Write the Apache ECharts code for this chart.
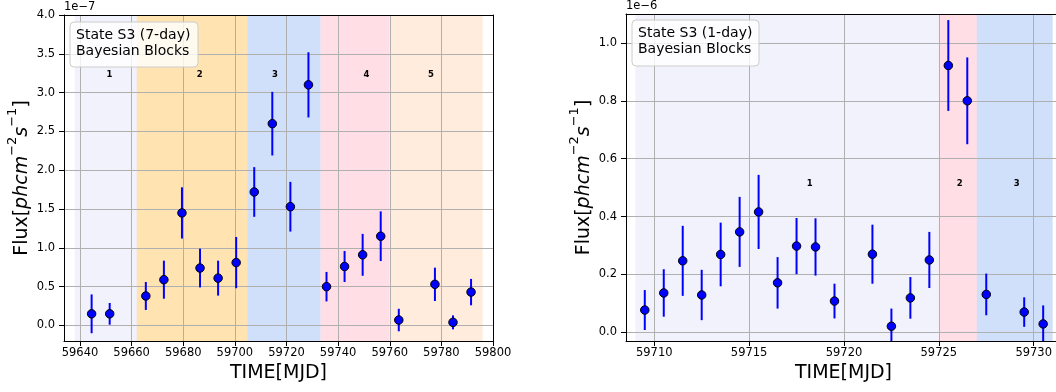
<!DOCTYPE html>
<html>
<head>
<meta charset="utf-8">
<script src="https://cdn.jsdelivr.net/npm/echarts@6/dist/echarts.min.js"></script>
<style>
  html, body { margin: 0; padding: 0; background: #ffffff; }
  #chart { width: 1056px; height: 392px; }
</style>
</head>
<body>
<div id="chart"></div>
<script>
// ---- 7-day binned light curve (flux in units of 1e-7 ph cm^-2 s^-1) ----
const weekTime = [59644.5, 59651.5, 59665.5, 59672.5, 59679.5, 59686.5, 59693.5, 59700.5, 59707.5, 59714.5,
                  59721.5, 59728.5, 59735.5, 59742.5, 59749.5, 59756.5, 59763.5, 59777.5, 59784.5, 59791.5];
const weekFlux = [0.15, 0.15, 0.38, 0.59, 1.45, 0.74, 0.61, 0.81, 1.72, 2.60,
                  1.53, 3.10, 0.50, 0.76, 0.91, 1.15, 0.07, 0.53, 0.04, 0.43];
const weekErr  = [0.25, 0.14, 0.18, 0.245, 0.33, 0.25, 0.225, 0.33, 0.32, 0.41,
                  0.32, 0.42, 0.19, 0.20, 0.27, 0.32, 0.145, 0.215, 0.09, 0.17];

// Bayesian-block edges and block numbers for the 7-day curve
const weekEdges = [59638, 59662, 59704.8, 59733.2, 59759.8, 59796];
const weekBlockNames = ['1', '2', '3', '4', '5'];
const weekBlockLabelX = [59651.4, 59686.4, 59715.5, 59751.0, 59776.0];
const weekBlockLabelY = 3.23;

// ---- 1-day binned light curve (flux in units of 1e-6 ph cm^-2 s^-1) ----
const dayTime = [59709.5, 59710.5, 59711.5, 59712.5, 59713.5, 59714.5, 59715.5, 59716.5, 59717.5, 59718.5,
                 59719.5, 59721.5, 59722.5, 59723.5, 59724.5, 59725.5, 59726.5, 59727.5, 59729.5, 59730.5];
const dayFlux = [0.077, 0.136, 0.247, 0.129, 0.269, 0.347, 0.416, 0.171, 0.298, 0.295,
                 0.108, 0.270, 0.021, 0.119, 0.250, 0.922, 0.800, 0.131, 0.070, 0.029];
const dayErr  = [0.069, 0.082, 0.121, 0.087, 0.110, 0.121, 0.128, 0.089, 0.097, 0.099,
                 0.060, 0.102, 0.061, 0.072, 0.097, 0.157, 0.150, 0.072, 0.051, 0.064];

const dayEdges = [59709, 59725, 59727, 59731];
const dayBlockNames = ['1', '2', '3'];
const dayBlockLabelX = [59718.2, 59726.1, 59729.1];
const dayBlockLabelY = 0.512;

// Tick values
const weekXTicks = [59640, 59660, 59680, 59700, 59720, 59740, 59760, 59780, 59800];
const weekYTicks = [0.0, 0.5, 1.0, 1.5, 2.0, 2.5, 3.0, 3.5, 4.0];
const dayXTicks = [59710, 59715, 59720, 59725, 59730];
const dayYTicks = [0.0, 0.2, 0.4, 0.6, 0.8, 1.0];

// Block shading colours
const LAVENDER = 'rgba(230,230,250,0.5)';
const ORANGE = 'rgba(255,165,0,0.3)';
const CORNFLOWER = 'rgba(100,149,237,0.3)';
const PINK = 'rgba(255,192,203,0.5)';
const PEACH = 'rgba(255,218,185,0.5)';
const weekColors = [LAVENDER, ORANGE, CORNFLOWER, PINK, PEACH];
const dayColors = [LAVENDER, PINK, CORNFLOWER];

const FONT = 'DejaVu Sans';

const panels = [
  {
    grid: { left: 64, top: 15, width: 429, height: 326, outerBoundsMode: 'none' },
    xRange: [59633.8, 59800], yRange: [-0.2, 4.0],
    xTicks: weekXTicks, yTicks: weekYTicks,
    t: weekTime, f: weekFlux, e: weekErr,
    edges: weekEdges, colors: weekColors,
    names: weekBlockNames, lx: weekBlockLabelX, ly: weekBlockLabelY
  },
  {
    // the right-hand frame runs a few pixels past the canvas edge
    grid: { left: 626, top: 14, width: 435, height: 327, outerBoundsMode: 'none' },
    xRange: [59708.51, 59731.44], yRange: [-0.03, 1.1],
    xTicks: dayXTicks, yTicks: dayYTicks,
    t: dayTime, f: dayFlux, e: dayErr,
    edges: dayEdges, colors: dayColors,
    names: dayBlockNames, lx: dayBlockLabelX, ly: dayBlockLabelY
  }
];

const yName = '{a|Flux[}{b|phcm}{c|\u22122}{b|s}{c|\u22121}{a|]}';
const yNameRich = {
  a: { fontFamily: FONT, fontSize: 19, color: '#000', lineHeight: 26, verticalAlign: 'bottom' },
  b: { fontFamily: FONT, fontSize: 19, fontStyle: 'italic', color: '#000', lineHeight: 26, verticalAlign: 'bottom' },
  c: { fontFamily: FONT, fontSize: 13, color: '#000', lineHeight: 26, verticalAlign: 'top' }
};

const grids = [], xAxes = [], yAxes = [], series = [];

panels.forEach((p, i) => {
  grids.push(p.grid);
  const tickLabel = { color: '#000', fontFamily: FONT, fontSize: 11.5 };
  // bottom axis
  xAxes.push({
    type: 'value', gridIndex: i, min: p.xRange[0], max: p.xRange[1], z: 1,
    name: 'TIME[MJD]', nameLocation: 'middle', nameGap: 21,
    nameTextStyle: { color: '#000', fontFamily: FONT, fontSize: 19 },
    axisLine: { show: true, onZero: false, lineStyle: { color: '#000', width: 1 } },
    axisTick: { show: true, length: 5, lineStyle: { color: '#000', width: 1 }, customValues: p.xTicks },
    axisLabel: Object.assign({ margin: 6, customValues: p.xTicks, formatter: v => String(Math.round(v)) }, tickLabel),
    splitLine: { show: true, lineStyle: { color: '#b0b0b0', width: 1 } }
  });
  // left axis
  yAxes.push({
    type: 'value', gridIndex: i, min: p.yRange[0], max: p.yRange[1], z: 1,
    name: yName, nameLocation: 'middle', nameGap: 32, nameRotate: 90,
    nameTextStyle: { rich: yNameRich },
    axisLine: { show: true, onZero: false, lineStyle: { color: '#000', width: 1 } },
    axisTick: { show: true, length: 5, lineStyle: { color: '#000', width: 1 }, customValues: p.yTicks },
    axisLabel: Object.assign({ margin: 9, customValues: p.yTicks, formatter: v => Number(v).toFixed(1) }, tickLabel),
    splitLine: { show: true, lineStyle: { color: '#b0b0b0', width: 1 } }
  });
});

// frame: top and right spines
panels.forEach((p, i) => {
  xAxes.push({
    type: 'value', gridIndex: i, position: 'top', min: p.xRange[0], max: p.xRange[1], z: 1,
    axisLine: { show: true, onZero: false, lineStyle: { color: '#000', width: 1 } },
    axisTick: { show: false }, axisLabel: { show: false }, splitLine: { show: false }
  });
  yAxes.push({
    type: 'value', gridIndex: i, position: 'right', min: p.yRange[0], max: p.yRange[1], z: 1,
    axisLine: { show: true, onZero: false, lineStyle: { color: '#000', width: 1 } },
    axisTick: { show: false }, axisLabel: { show: false }, splitLine: { show: false }
  });
});

panels.forEach((p, i) => {
  // block shading
  const blocks = p.colors.map((c, k) => [p.edges[k], p.edges[k + 1], k]);
  series.push({
    type: 'custom', xAxisIndex: i, yAxisIndex: i, z: 0, silent: true, clip: true,
    data: blocks, encode: { x: [0, 1] },
    renderItem: (params, api) => {
      const a = api.coord([api.value(0), p.yRange[1]]);
      const b = api.coord([api.value(1), p.yRange[0]]);
      return {
        type: 'rect',
        shape: { x: a[0], y: a[1], width: b[0] - a[0], height: b[1] - a[1] },
        style: { fill: p.colors[api.value(2)] }
      };
    }
  });
  // error bars
  const errData = p.t.map((t, k) => [t, p.f[k], p.e[k]]);
  series.push({
    type: 'custom', xAxisIndex: i, yAxisIndex: i, z: 2, silent: true, clip: true,
    data: errData, encode: { x: 0, y: 1 },
    renderItem: (params, api) => {
      const x = api.value(0), y = api.value(1), e = api.value(2);
      const lo = api.coord([x, y - e]);
      const hi = api.coord([x, y + e]);
      return {
        type: 'line',
        shape: { x1: lo[0], y1: lo[1], x2: hi[0], y2: hi[1] },
        style: { stroke: '#0000ff', lineWidth: 2 }
      };
    }
  });
  // flux points
  series.push({
    type: 'scatter', xAxisIndex: i, yAxisIndex: i, z: 3, silent: true,
    symbol: 'circle', symbolSize: 8.5,
    itemStyle: { color: '#0000ff', borderColor: '#000', borderWidth: 1, opacity: 1 },
    data: p.t.map((t, k) => [t, p.f[k]])
  });
  // block numbers
  series.push({
    type: 'custom', xAxisIndex: i, yAxisIndex: i, z: 3, silent: true,
    data: p.names.map((n, k) => [p.lx[k], p.ly, k]), encode: { x: 0, y: 1 },
    renderItem: (params, api) => {
      const c = api.coord([api.value(0), api.value(1)]);
      return {
        type: 'text', x: c[0], y: c[1],
        style: {
          text: p.names[api.value(2)], fill: '#000',
          font: 'bold 8.5px "DejaVu Sans"', align: 'center', verticalAlign: 'middle'
        }
      };
    }
  });
});

function textBox(x, y, w, h, lines) {
  return {
    type: 'group', x: x, y: y, z: 10,
    children: [
      { type: 'rect', z: 10, shape: { x: 0, y: 0, width: w, height: h, r: 4 },
        style: { fill: 'rgba(255,255,255,0.8)', stroke: '#cccccc', lineWidth: 1 } },
      { type: 'text', z: 11, x: 6, y: 5,
        style: { text: lines.join('\n'), fill: '#000', font: '14px "DejaVu Sans"', lineHeight: 16.5 } }
    ]
  };
}

const option = {
  animation: false,
  backgroundColor: '#ffffff',
  grid: grids,
  xAxis: xAxes,
  yAxis: yAxes,
  series: series,
  graphic: [
    { type: 'text', left: 64, top: 1, z: 10, style: { text: '1e\u22127', fill: '#000', font: '11.5px "DejaVu Sans"' } },
    { type: 'text', left: 626, top: 0, z: 10, style: { text: '1e\u22126', fill: '#000', font: '11.5px "DejaVu Sans"' } },
    textBox(70, 22, 128, 45, ['State S3 (7-day)', 'Bayesian Blocks']),
    textBox(632, 20, 127, 46, ['State S3 (1-day)', 'Bayesian Blocks'])
  ]
};

const chart = echarts.init(document.getElementById('chart'), null, { renderer: 'canvas' });
chart.setOption(option);
</script>
</body>
</html>
